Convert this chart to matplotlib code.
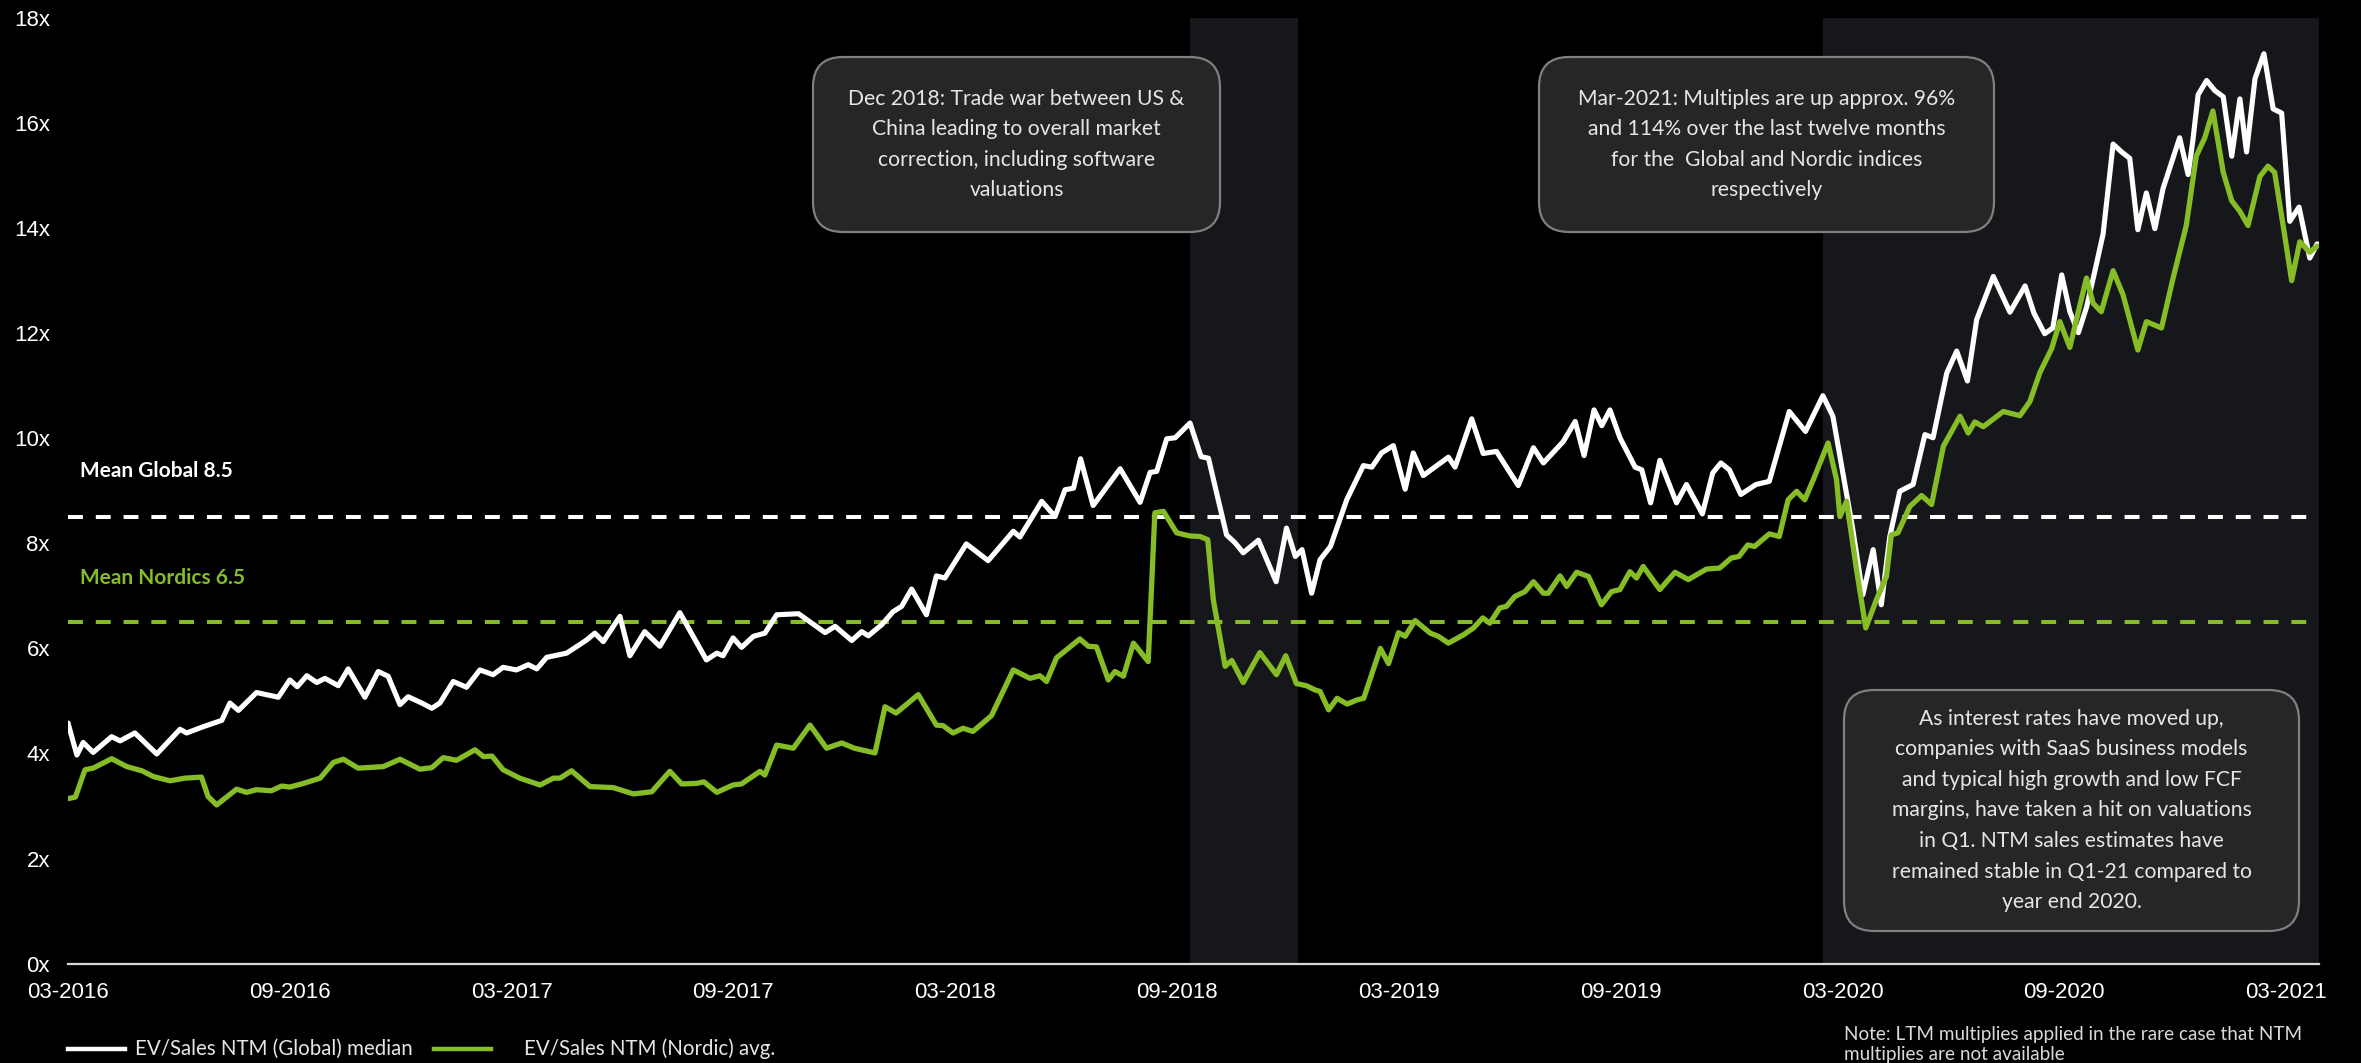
import matplotlib
matplotlib.use("Agg")
import matplotlib.pyplot as plt
from matplotlib.patches import FancyBboxPatch
from matplotlib.lines import Line2D
from matplotlib.transforms import IdentityTransform

# months since 03-2016 and EV/Sales NTM multiples
global_months = [0.0, 0.24, 0.41, 0.68, 1.18, 1.41, 1.81, 2.40, 3.03, 3.21, 3.66, 4.16, 4.38, 4.61,
                 5.10, 5.69, 6.00, 6.20, 6.46, 6.73, 6.95, 7.31, 7.58, 8.03, 8.39, 8.66, 8.98, 9.20,
                 9.57, 9.84, 10.06, 10.42, 10.78, 11.14, 11.50, 11.77, 12.13, 12.45, 12.68, 12.95,
                 13.49, 14.03, 14.25, 14.48, 14.93, 15.20, 15.60, 16.01, 16.55, 17.27, 17.55, 17.72,
                 17.99, 18.22, 18.54, 18.85, 19.17, 19.76, 20.48, 20.75, 21.20, 21.47, 21.65, 22.01,
                 22.32, 22.55, 22.82, 23.22, 23.49, 23.72, 24.30, 24.89, 25.57, 25.75, 26.34, 26.70,
                 26.97, 27.20, 27.39, 27.73, 28.46, 29.00, 29.27, 29.45, 29.72, 29.95, 30.35, 30.65,
                 30.85, 31.07, 31.34, 31.57, 31.79, 32.20, 32.68, 32.96, 33.20, 33.38, 33.64, 33.87,
                 34.15, 34.59, 35.04, 35.27, 35.53, 35.85, 36.17, 36.39, 36.66, 36.93, 37.34, 37.52,
                 37.97, 38.28, 38.64, 39.23, 39.64, 39.91, 40.45, 40.77, 41.01, 41.28, 41.49, 41.71,
                 41.98, 42.39, 42.57, 42.81, 43.06, 43.51, 43.78, 44.21, 44.49, 44.71, 44.94, 45.25,
                 45.66, 46.02, 46.56, 47.00, 47.47, 47.74, 48.01, 48.28, 48.55, 48.83, 49.05, 49.28,
                 49.55, 49.91, 50.23, 50.45, 50.82, 51.09, 51.38, 51.63, 52.08, 52.53, 52.94, 53.18,
                 53.47, 53.69, 53.93, 54.15, 54.38, 54.60, 54.83, 55.05, 55.32, 55.55, 55.77, 55.99,
                 56.22, 56.45, 56.67, 57.12, 57.35, 57.48, 57.62, 57.85, 58.07, 58.30, 58.53, 58.75,
                 58.93, 59.16, 59.40, 59.65, 59.88, 60.10, 60.35, 60.64, 60.84]
global_vals = [4.58, 3.97, 4.21, 4.02, 4.32, 4.24, 4.39, 3.99, 4.46, 4.39, 4.51, 4.63, 4.96, 4.82,
               5.16, 5.07, 5.40, 5.27, 5.48, 5.35, 5.43, 5.29, 5.61, 5.07, 5.56, 5.47, 4.93, 5.08,
               4.96, 4.86, 4.96, 5.37, 5.26, 5.59, 5.50, 5.64, 5.59, 5.69, 5.61, 5.83,
               5.91, 6.16, 6.29, 6.13, 6.61, 5.86, 6.32, 6.04, 6.68, 5.78, 5.91, 5.86,
               6.20, 6.02, 6.23, 6.29, 6.64, 6.66, 6.30, 6.42, 6.15, 6.32, 6.24, 6.45,
               6.70, 6.80, 7.13, 6.64, 7.38, 7.34, 7.99, 7.67, 8.23, 8.12, 8.80, 8.51,
               9.02, 9.05, 9.61, 8.72, 9.42, 8.78, 9.35, 9.37, 9.99, 10.01, 10.29, 9.65,
               9.62, 8.96, 8.16, 8.01, 7.82, 8.06, 7.27, 8.29, 7.75, 7.88, 7.05, 7.69,
               7.94, 8.83, 9.48, 9.45, 9.72, 9.86, 9.03, 9.72, 9.29, 9.43, 9.64, 9.45,
               10.37, 9.71, 9.75, 9.10, 9.82, 9.53, 9.94, 10.32, 9.67, 10.54, 10.24, 10.54,
               10.01, 9.45, 9.40, 8.77, 9.58, 8.77, 9.12, 8.56, 9.34, 9.53, 9.40, 8.93,
               9.12, 9.18, 10.51, 10.13, 10.81, 10.42, 9.34, 8.26, 7.02, 7.88, 6.83, 8.13,
               8.99, 9.12, 10.07, 10.01, 11.24, 11.66, 11.09, 12.26, 13.08, 12.40, 12.90, 12.38,
               11.99, 12.10, 13.11, 12.41, 12.01, 12.49, 13.19, 13.89, 15.60, 15.45, 15.33, 13.97,
               14.67, 13.99, 14.75, 15.72, 15.02, 15.68, 16.54, 16.81, 16.62, 16.50, 15.37, 16.46,
               15.45, 16.85, 17.32, 16.27, 16.19, 14.13, 14.40, 13.43, 13.70]

nordic_months = [0.0, 0.20, 0.46, 0.68, 1.18, 1.59, 2.00, 2.31, 2.76, 3.16, 3.61, 3.79, 4.02, 4.56,
                 4.83, 5.10, 5.50, 5.78, 6.00, 6.37, 6.82, 7.18, 7.45, 7.85, 8.53, 8.98, 9.52, 9.84,
                 10.15, 10.51, 11.01, 11.24, 11.47, 11.77, 12.22, 12.77, 13.13, 13.31, 13.62, 14.12,
                 14.75, 15.29, 15.79, 16.28, 16.60, 17.00, 17.20, 17.55, 17.99, 18.22, 18.72, 18.85,
                 19.17, 19.62, 20.07, 20.52, 20.93, 21.27, 21.83, 22.10, 22.40, 23.00, 23.49, 23.67,
                 23.94, 24.21, 24.48, 24.98, 25.57, 26.02, 26.29, 26.47, 26.74, 27.37, 27.60, 27.82,
                 28.14, 28.32, 28.55, 28.82, 29.22, 29.40, 29.63, 29.99, 30.35, 30.62, 30.83, 30.98,
                 31.30, 31.48, 31.79, 32.24, 32.69, 32.94, 33.23, 33.50, 33.73, 33.87, 34.10, 34.33,
                 34.60, 34.87, 35.05, 35.50, 35.72, 35.99, 36.17, 36.44, 36.85, 37.07, 37.34, 37.75,
                 38.02, 38.27, 38.46, 38.73, 38.91, 39.14, 39.41, 39.64, 39.91, 40.04, 40.36, 40.54,
                 40.81, 41.13, 41.48, 41.75, 41.98, 42.25, 42.43, 42.61, 43.06, 43.47, 43.83, 44.32,
                 44.68, 44.99, 45.20, 45.44, 45.62, 46.02, 46.29, 46.53, 46.76, 46.98, 47.21, 47.61,
                 47.84, 47.93, 48.11, 48.38, 48.63, 48.92, 49.19, 49.32, 49.50, 49.82, 50.14, 50.41,
                 50.73, 51.18, 51.40, 51.58, 51.81, 52.35, 52.80, 53.07, 53.34, 53.66, 53.88, 54.15,
                 54.38, 54.60, 54.78, 55.00, 55.32, 55.59, 55.99, 56.22, 56.63, 56.94, 57.30, 57.57,
                 57.80, 58.02, 58.30, 58.53, 58.75, 58.97, 59.29, 59.51, 59.69, 59.92, 60.15, 60.37,
                 60.64, 60.84]
nordic_vals = [3.14, 3.17, 3.69, 3.72, 3.90, 3.75, 3.67, 3.56, 3.48, 3.53, 3.55, 3.18, 3.02, 3.32,
               3.26, 3.31, 3.29, 3.38, 3.36, 3.43, 3.53, 3.83, 3.89, 3.72, 3.75, 3.89, 3.70, 3.73,
               3.92, 3.87, 4.07, 3.94, 3.95, 3.69, 3.53, 3.40, 3.53, 3.53, 3.67, 3.37,
               3.35, 3.23, 3.27, 3.66, 3.42, 3.43, 3.46, 3.26, 3.40, 3.42, 3.66, 3.59,
               4.16, 4.10, 4.54, 4.10, 4.20, 4.10, 4.01, 4.89, 4.77, 5.12, 4.54, 4.53,
               4.39, 4.48, 4.42, 4.72, 5.59, 5.43, 5.48, 5.37, 5.82, 6.18, 6.04, 6.03,
               5.40, 5.56, 5.47, 6.10, 5.75, 8.58, 8.61, 8.20, 8.14, 8.13, 8.07, 6.93,
               5.66, 5.77, 5.35, 5.92, 5.50, 5.86, 5.33, 5.29, 5.21, 5.18, 4.83, 5.05,
               4.94, 5.02, 5.05, 6.00, 5.71, 6.30, 6.23, 6.53, 6.29, 6.23, 6.10, 6.26,
               6.39, 6.58, 6.48, 6.77, 6.80, 6.99, 7.08, 7.27, 7.05, 7.05, 7.38, 7.18,
               7.45, 7.37, 6.83, 7.08, 7.12, 7.46, 7.34, 7.56, 7.12, 7.45, 7.31, 7.51,
               7.53, 7.72, 7.75, 7.97, 7.94, 8.18, 8.13, 8.83, 8.99, 8.83, 9.21, 9.91,
               9.21, 8.51, 8.80, 7.50, 6.39, 6.93, 7.37, 8.16, 8.20, 8.70, 8.91, 8.74,
               9.85, 10.42, 10.10, 10.31, 10.22, 10.51, 10.43, 10.70, 11.25, 11.71, 12.22, 11.73,
               12.41, 13.05, 12.57, 12.41, 13.19, 12.73, 11.68, 12.22, 12.10, 13.04, 14.05, 15.37,
               15.72, 16.23, 15.06, 14.52, 14.32, 14.05, 14.98, 15.18, 15.06, 14.05, 13.00, 13.74,
               13.54, 13.66]

mean_global = 8.5
mean_nordic = 6.5
shade_periods = [(30.34, 33.27), (47.48, 60.89)]

tick_months = [0, 6, 12, 18, 24, 30, 36, 42, 48, 54, 60]
tick_labels = ['03-2016', '09-2016', '03-2017', '09-2017', '03-2018', '09-2018',
               '03-2019', '09-2019', '03-2020', '09-2020', '03-2021']
y_ticks = [0, 2, 4, 6, 8, 10, 12, 14, 16, 18]

series_labels = ['EV/Sales NTM (Global) median', 'EV/Sales NTM (Nordic) avg.']
note_dec18 = "Dec 2018: Trade war between US &\nChina leading to overall market\ncorrection, including software\nvaluations"
note_mar21 = "Mar-2021: Multiples are up approx. 96%\nand 114% over the last twelve months\nfor the  Global and Nordic indices\nrespectively"
note_rates = ("As interest rates have moved up,\ncompanies with SaaS business models\n"
              "and typical high growth and low FCF\nmargins, have taken a hit on valuations\n"
              "in Q1. NTM sales estimates have\nremained stable in Q1-21 compared to\nyear end 2020.")
note_ltm = "Note: LTM multiplies applied in the rare case that NTM\nmultiplies are not available"

GREEN = '#86bc25'
W, H = 2361, 1063

plt.rcParams['font.family'] = ['Liberation Sans', 'DejaVu Sans']
fig = plt.figure(figsize=(W / 100, H / 100), dpi=100, facecolor='black')
ax = fig.add_axes([68 / W, 1 - 963.6 / H, (2319 - 68) / W, (963.6 - 18) / H])
ax.set_facecolor('black')
ax.set_xlim(0, 60.89)
ax.set_ylim(0, 18)

for a, b in shade_periods:
    ax.axvspan(a, b, color='#16171a', lw=0, zorder=0)

ax.axhline(mean_global, color='white', lw=2.9, dashes=(3.7, 3.2), zorder=2)
ax.axhline(mean_nordic, color=GREEN, lw=2.9, dashes=(3.7, 3.2), zorder=2)

ax.plot(global_months, global_vals, color='white', lw=3.7, solid_joinstyle='round',
        solid_capstyle='round', zorder=3)
ax.plot(nordic_months, nordic_vals, color=GREEN, lw=3.8, solid_joinstyle='round',
        solid_capstyle='round', zorder=4)

ax.text(0.32, 9.38, 'Mean Global 8.5', color='white', fontsize=15, fontweight='bold',
        family='Lato', va='center', ha='left')
ax.text(0.32, 7.34, 'Mean Nordics 6.5', color=GREEN, fontsize=15, fontweight='bold',
        family='Lato', va='center', ha='left')

for s in ['top', 'right', 'left']:
    ax.spines[s].set_visible(False)
ax.spines['bottom'].set_color('#d9d9d9')
ax.spines['bottom'].set_linewidth(1.6)
ax.spines['bottom'].set_zorder(5)

ax.set_xticks(tick_months)
ax.set_xticklabels(tick_labels)
ax.set_yticks(y_ticks)
ax.set_yticklabels([f'{v}x' for v in y_ticks])
ax.tick_params(axis='x', length=0, pad=13, labelsize=16, labelcolor='white')
ax.tick_params(axis='y', length=0, pad=13, labelsize=16, labelcolor='white')

# annotation boxes, in figure pixels (origin bottom-left)
px = IdentityTransform()
boxes = [((813, 831, 407, 175), note_dec18),
         ((1539, 831, 455, 175), note_mar21),
         ((1844, 132, 455, 241), note_rates)]
for (x0, y0, w, h), txt in boxes:
    fig.add_artist(FancyBboxPatch((x0, y0), w, h, boxstyle='round,pad=0,rounding_size=30',
                                  transform=px, facecolor='#262626', edgecolor='#7f7f7f', lw=1.6))
    fig.text(x0 + w / 2, y0 + h / 2, txt, transform=px, ha='center', va='center', color='#e6e6e6',
             fontsize=15.2, family='Lato', linespacing=1.66)

fig.text(1844, 37, note_ltm, transform=px, ha='left', va='top', color='#d9d9d9',
         fontsize=13.6, family='Lato', linespacing=1.2)

# legend drawn by hand below the axis
for (x0, x1, xt), col, lab in zip([(68, 125, 135), (434, 491, 524)], ['white', GREEN], series_labels):
    fig.add_artist(Line2D([x0, x1], [14, 14], transform=px, color=col, lw=3.2))
    fig.text(xt, 14, lab, transform=px, ha='left', va='center', color='#e6e6e6',
             fontsize=14.8, family='Lato')

fig.savefig('out.png', dpi=100, facecolor='black')
